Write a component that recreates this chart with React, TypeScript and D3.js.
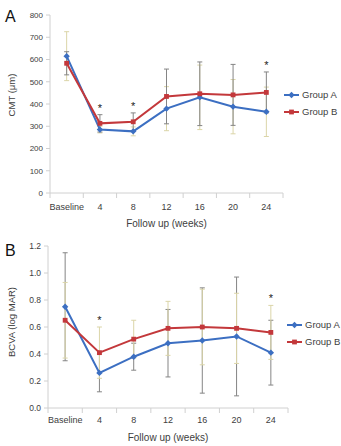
import React from 'react';
import * as d3 from 'd3';

const WIDTH = 341;
const HEIGHT = 446;

const weeks = ['Baseline', '4', '8', '12', '16', '20', '24'];

// central macular thickness (µm)
const cmtGroupA = [615, 285, 277, 379, 430, 388, 365];
const cmtGroupB = [583, 313, 320, 434, 446, 441, 452];
const cmtSdA = [110, 15, 20, 99, 145, 122, 111];
const cmtSdB = [52, 39, 40, 123, 143, 137, 92];
const cmtTicks = [0, 100, 200, 300, 400, 500, 600, 700, 800];
const cmtSignificant = ['4', '8', '24'];

// visual acuity (logMAR)
const bcvaGroupA = [0.75, 0.26, 0.38, 0.48, 0.5, 0.53, 0.41];
const bcvaGroupB = [0.65, 0.41, 0.51, 0.59, 0.6, 0.59, 0.56];
const bcvaSdA = [0.4, 0.14, 0.1, 0.25, 0.39, 0.44, 0.24];
const bcvaSdB = [0.28, 0.19, 0.14, 0.2, 0.28, 0.26, 0.2];
const bcvaTicks = [0, 0.2, 0.4, 0.6, 0.8, 1.0, 1.2];
const bcvaSignificant = ['4', '24'];

const BLUE = '#3c6fc2';
const RED = '#c3383b';
const GRAY_BAR = '#858585';
const TAN_BAR = '#dbd5a8';
const AXIS = '#d0d0d0';
const TEXT = '#404040';
const FONT = '"Liberation Sans", Arial, sans-serif';

type PanelProps = {
  letter: string;
  letterY: number;
  top: number;
  bottom: number;
  left: number;
  right: number;
  ticks: number[];
  tickFormat: (v: number) => string;
  tickFont: number;
  title: string;
  titleY: number;
  xLabelY: number;
  xTitleY: number;
  legendX: number;
  legendY: number;
  groupA: number[];
  groupB: number[];
  sdA: number[];
  sdB: number[];
  barColorA: string;
  barColorB: string;
  significant: string[];
};

function Diamond({x, y, color}: {x: number; y: number; color: string}) {
  const r = 3.2;
  return <path d={`M${x},${y - r}L${x + r},${y}L${x},${y + r}L${x - r},${y}Z`} fill={color} />;
}

function Square({x, y, color}: {x: number; y: number; color: string}) {
  const r = 2.4;
  return <rect x={x - r} y={y - r} width={r * 2} height={r * 2} fill={color} />;
}

function Panel(p: PanelProps) {
  const x = d3.scaleBand<string>().domain(weeks).range([p.left, p.right]);
  const y = d3.scaleLinear()
    .domain([p.ticks[0], p.ticks[p.ticks.length - 1]])
    .range([p.bottom, p.top]);
  const cx = (w: string) => (x(w) as number) + x.bandwidth() / 2;

  const line = d3.line<number>()
    .x((d, i) => cx(weeks[i]))
    .y(d => y(d));

  const errorBars = (values: number[], sds: number[], color: string, key: string) =>
    values.map((v, i) => {
      const px = cx(weeks[i]);
      const y0 = y(v - sds[i]);
      const y1 = y(v + sds[i]);
      return (
        <g key={`${key}-${i}`} stroke={color} strokeWidth={1}>
          <line x1={px} x2={px} y1={y0} y2={y1} />
          <line x1={px - 2.5} x2={px + 2.5} y1={y0} y2={y0} />
          <line x1={px - 2.5} x2={px + 2.5} y1={y1} y2={y1} />
        </g>
      );
    });

  const boundaries = weeks.map(w => x(w) as number).concat([p.right]);

  return (
    <g fontFamily={FONT}>
      <text x={5} y={p.letterY} fontSize={16} fill="#111">{p.letter}</text>

      {/* axes */}
      <line x1={p.left} x2={p.left} y1={p.top} y2={p.bottom} stroke={AXIS} />
      <line x1={p.left} x2={p.right} y1={p.bottom} y2={p.bottom} stroke={AXIS} />
      {p.ticks.map(t => (
        <g key={t}>
          <line x1={p.left - 4} x2={p.left} y1={y(t)} y2={y(t)} stroke={AXIS} />
          <text x={p.left - 7} y={y(t)} dy="0.35em" textAnchor="end"
            fontSize={p.tickFont} fill={TEXT}>{p.tickFormat(t)}</text>
        </g>
      ))}
      {boundaries.map((bx, i) => (
        <line key={i} x1={bx} x2={bx} y1={p.bottom} y2={p.bottom + 5} stroke={AXIS} />
      ))}
      {weeks.map(w => (
        <text key={w} x={cx(w)} y={p.xLabelY} textAnchor="middle" fontSize={9}
          fill={TEXT}>{w}</text>
      ))}
      <text x={(p.left + p.right) / 2} y={p.xTitleY} textAnchor="middle"
        fontSize={10} fill={TEXT}>Follow up (weeks)</text>
      <text transform={`translate(15,${p.titleY}) rotate(-90)`} textAnchor="middle"
        fontSize={9.5} fill={TEXT}>{p.title}</text>

      {/* error bars, group B drawn over group A */}
      {errorBars(p.groupA, p.sdA, p.barColorA, 'a')}
      {errorBars(p.groupB, p.sdB, p.barColorB, 'b')}

      <path d={line(p.groupA) || ''} fill="none" stroke={BLUE} strokeWidth={2} />
      <path d={line(p.groupB) || ''} fill="none" stroke={RED} strokeWidth={2} />
      {p.groupA.map((v, i) => <Diamond key={`da${i}`} x={cx(weeks[i])} y={y(v)} color={BLUE} />)}
      {p.groupB.map((v, i) => <Square key={`sb${i}`} x={cx(weeks[i])} y={y(v)} color={RED} />)}

      {p.significant.map(w => {
        const i = weeks.indexOf(w);
        const top = Math.max(p.groupA[i] + p.sdA[i], p.groupB[i] + p.sdB[i]);
        return (
          <text key={`s${w}`} x={cx(w)} y={y(top) - 3} textAnchor="middle"
            fontSize={11} fill="#222">*</text>
        );
      })}

      {/* legend */}
      <g>
        <line x1={p.legendX} x2={p.legendX + 15} y1={p.legendY} y2={p.legendY}
          stroke={BLUE} strokeWidth={2} />
        <Diamond x={p.legendX + 7.5} y={p.legendY} color={BLUE} />
        <text x={p.legendX + 18} y={p.legendY} dy="0.35em" fontSize={9.5}
          fill={TEXT}>Group A</text>
        <line x1={p.legendX} x2={p.legendX + 15} y1={p.legendY + 17} y2={p.legendY + 17}
          stroke={RED} strokeWidth={2} />
        <Square x={p.legendX + 7.5} y={p.legendY + 17} color={RED} />
        <text x={p.legendX + 18} y={p.legendY + 17} dy="0.35em" fontSize={9.5}
          fill={TEXT}>Group B</text>
      </g>
    </g>
  );
}

export default function App() {
  return (
    <svg width={WIDTH} height={HEIGHT}
      style={{position: 'absolute', left: 0, top: 0, background: '#fff'}}>
      <Panel
        letter="A" letterY={22}
        top={15} bottom={193} left={50} right={283}
        ticks={cmtTicks} tickFormat={d3.format('d')} tickFont={8}
        title="CMT (μm)" titleY={95}
        xLabelY={210} xTitleY={227}
        legendX={284} legendY={95}
        groupA={cmtGroupA} groupB={cmtGroupB} sdA={cmtSdA} sdB={cmtSdB}
        barColorA={TAN_BAR} barColorB={GRAY_BAR}
        significant={cmtSignificant}
      />
      <Panel
        letter="B" letterY={256}
        top={246} bottom={408} left={48} right={288}
        ticks={bcvaTicks} tickFormat={d3.format('.1f')} tickFont={8.5}
        title="BCVA (log MAR)" titleY={322}
        xLabelY={423} xTitleY={441}
        legendX={287} legendY={325}
        groupA={bcvaGroupA} groupB={bcvaGroupB} sdA={bcvaSdA} sdB={bcvaSdB}
        barColorA={GRAY_BAR} barColorB={TAN_BAR}
        significant={bcvaSignificant}
      />
    </svg>
  );
}
